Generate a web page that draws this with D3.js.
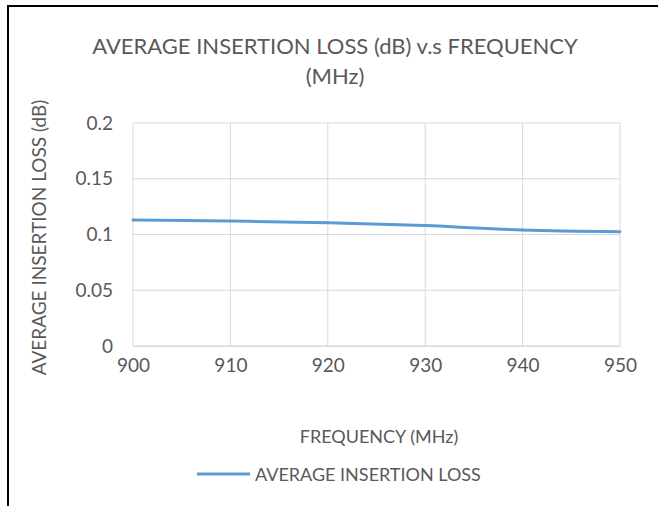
<!DOCTYPE html>
<html>
<head>
<meta charset="utf-8">
<script src="https://cdn.jsdelivr.net/npm/d3@7"></script>
<style>
  body { margin: 0; background: #fff; }
  text { font-family: Lato, "Open Sans", sans-serif; fill: #595959; }
</style>
</head>
<body>
<div id="chart"></div>
<script>
const frequencies = [900, 910, 920, 930, 940, 950]
const avgLoss = [0.113, 0.112, 0.1105, 0.108, 0.104, 0.1025]
const yTicks = [0, 0.05, 0.1, 0.15, 0.2]

const W = 658, H = 506
const MARGIN = {TOP: 123, LEFT: 133, RIGHT: 38, BOTTOM: 160}
const WIDTH = W - MARGIN.LEFT - MARGIN.RIGHT
const HEIGHT = H - MARGIN.TOP - MARGIN.BOTTOM

const svg = d3.select("#chart").append("svg")
    .attr("width", W)
    .attr("height", H)

// outer frame (right and bottom edges fall outside the picture)
svg.append("rect")
    .attr("x", 8).attr("y", 6)
    .attr("width", 700).attr("height", 600)
    .attr("fill", "none")
    .attr("stroke", "#000")
    .attr("stroke-width", 2)

const g = svg.append("g")
    .attr("transform", `translate(${MARGIN.LEFT}, ${MARGIN.TOP})`)

const x = d3.scaleLinear().domain([900, 950]).range([0, WIDTH])
const y = d3.scaleLinear().domain([0, 0.2]).range([HEIGHT, 0])

// gridlines
g.append("g").selectAll("line")
    .data(yTicks)
    .enter().append("line")
    .attr("x1", 0).attr("x2", WIDTH)
    .attr("y1", d => y(d)).attr("y2", d => y(d))
    .attr("stroke", "#d9d9d9").attr("stroke-width", 1)

g.append("g").selectAll("line")
    .data(frequencies)
    .enter().append("line")
    .attr("x1", d => x(d)).attr("x2", d => x(d))
    .attr("y1", 0).attr("y2", HEIGHT)
    .attr("stroke", "#d9d9d9").attr("stroke-width", 1)

// axes (labels only)
const xAxis = g.append("g")
    .attr("transform", `translate(0,${HEIGHT})`)
    .call(d3.axisBottom(x).tickValues(frequencies).tickFormat(d3.format("d")).tickSize(0).tickPadding(13))
xAxis.select(".domain").attr("stroke", "#d9d9d9")
xAxis.selectAll("text").style("font-size", "19px").attr("fill", "#595959")

const yAxis = g.append("g")
    .call(d3.axisLeft(y).tickValues(yTicks).tickFormat(d => d3.format("")(d)).tickSize(0).tickPadding(20))
yAxis.select(".domain").remove()
yAxis.selectAll("text").style("font-size", "19px").attr("fill", "#595959")

// series line
const line = d3.line()
    .x((d, i) => x(frequencies[i]))
    .y(d => y(d))
    .curve(d3.curveMonotoneX)

g.append("path")
    .datum(avgLoss)
    .attr("d", line)
    .attr("fill", "none")
    .attr("stroke", "#5b9bd5")
    .attr("stroke-width", 3)
    .attr("stroke-linecap", "round")

// title
svg.append("text")
    .attr("x", 335).attr("y", 54)
    .attr("text-anchor", "middle")
    .style("font-size", "22px")
    .text("AVERAGE INSERTION LOSS (dB) v.s FREQUENCY")
svg.append("text")
    .attr("x", 335).attr("y", 84)
    .attr("text-anchor", "middle")
    .style("font-size", "22px")
    .text("(MHz)")

// axis titles
svg.append("text")
    .attr("transform", `translate(46, ${MARGIN.TOP + HEIGHT / 2 + 3}) rotate(-90)`)
    .attr("text-anchor", "middle")
    .style("font-size", "19px")
    .text("AVERAGE INSERTION LOSS (dB)")

svg.append("text")
    .attr("x", 379).attr("y", 443)
    .attr("text-anchor", "middle")
    .style("font-size", "18px")
    .text("FREQUENCY (MHz)")

// legend
const legend = svg.append("g").attr("transform", "translate(197, 474)")
legend.append("line")
    .attr("x1", 0).attr("x2", 53)
    .attr("y1", 0).attr("y2", 0)
    .attr("stroke", "#5b9bd5").attr("stroke-width", 3)
legend.append("text")
    .attr("x", 58).attr("y", 6.5)
    .style("font-size", "18px")
    .text("AVERAGE INSERTION LOSS")
</script>
</body>
</html>
